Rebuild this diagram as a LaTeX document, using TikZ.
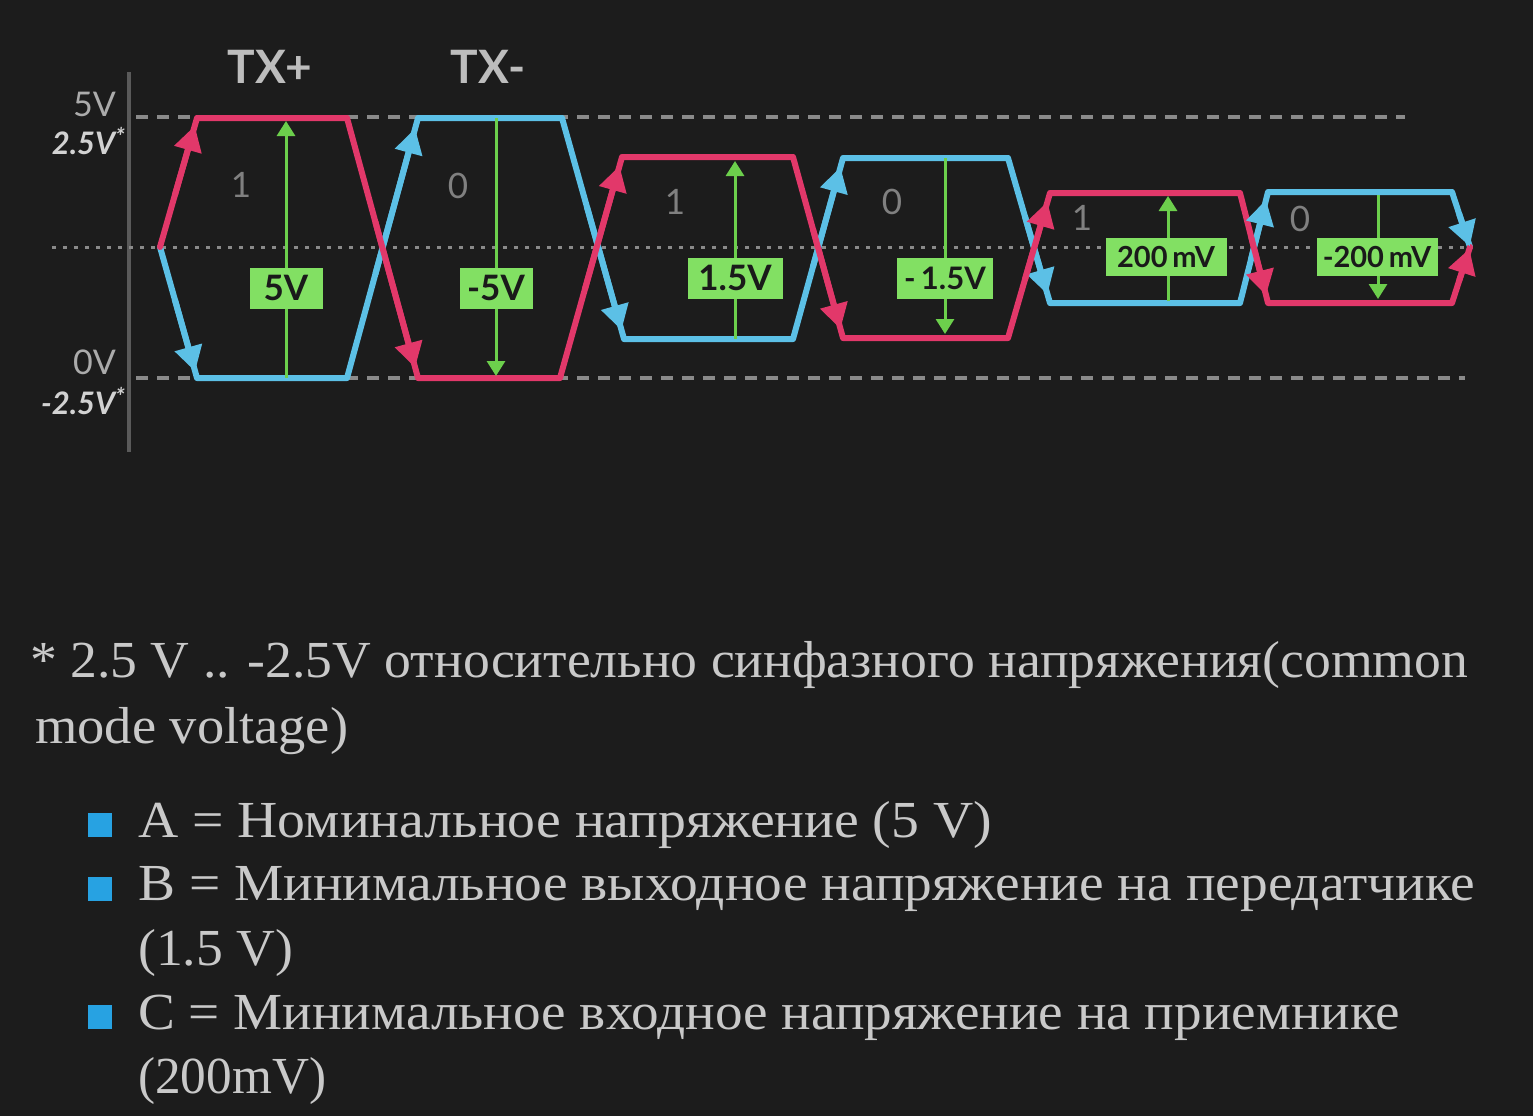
\documentclass[tikz,border=0pt]{standalone}
\usepackage{fontspec}
\setmainfont{Liberation Serif}
\newfontfamily\diag{Lato}
\usetikzlibrary{arrows.meta,calc}
\definecolor{bg}{HTML}{1C1C1C}
\definecolor{wred}{HTML}{E2386A}
\definecolor{wblue}{HTML}{5CC0E6}
\definecolor{mgreen}{HTML}{6CCF4C}
\definecolor{lgreen}{HTML}{82E063}
\definecolor{boxtxt}{HTML}{1A1A1A}
\definecolor{txt}{HTML}{C9C9C9}
\definecolor{dig}{HTML}{808080}
\definecolor{axisg}{HTML}{5A5A5A}
\definecolor{dashg}{HTML}{8A8A8A}
\definecolor{albl}{HTML}{ABABAB}
\definecolor{albi}{HTML}{D2D2D2}
\definecolor{txlbl}{HTML}{BDBDBD}
\definecolor{bul}{HTML}{27A2E2}
\newlength\natw
\newcommand\FitLine[2]{\settowidth\natw{#2}\pgfmathsetmacro\fsc{#1/\natw}\scalebox{\fsc}[1]{#2}}
\begin{document}
\begin{tikzpicture}[x=1pt,y=-1pt,
  wave/.style={line width=6pt,line join=round,line cap=round},
  wtip/.style={line width=6pt,-{Triangle[length=25pt,width=27pt]}},
  meas/.style={draw=mgreen,line width=3pt,-{Triangle[length=15pt,width=18pt]}},
  vbox/.style={fill=lgreen,text=boxtxt,font=\diag\bfseries\fontsize{35}{35}\selectfont,inner sep=0pt,minimum height=41pt},
  mvbox/.style={fill=lgreen,text=boxtxt,font=\diag\bfseries\fontsize{29}{29}\selectfont,inner sep=0pt,minimum height=38pt,minimum width=121pt},
  bit/.style={text=dig,font=\diag\fontsize{35}{35}\selectfont,inner sep=0pt},
  axl/.style={text=albl,font=\diag\fontsize{34}{34}\selectfont,inner sep=0pt,anchor=east},
  axi/.style={text=albi,font=\diag\bfseries\itshape\fontsize{31}{31}\selectfont,inner sep=0pt,anchor=east},
  txl/.style={text=txlbl,font=\diag\bfseries\fontsize{46}{46}\selectfont,inner sep=0pt},
  para/.style={text=txt,font=\fontsize{52}{60}\selectfont,inner sep=0pt,anchor=base west},
  bullet/.style={fill=bul,minimum size=24pt,inner sep=0pt}]
\fill[bg] (0,0) rectangle (1533,1116);
\useasboundingbox (0,0) rectangle (1533,1116);

% axis and reference lines
\draw[axisg,line width=4pt] (129,72) -- (129,452);
\draw[dashg,line width=4pt,dash pattern=on 12pt off 9pt] (136,117) -- (1405,117);
\draw[dashg,line width=4pt,dash pattern=on 12pt off 9pt] (136,378) -- (1465,378);
\draw[dashg,line width=3pt,dash pattern=on 4pt off 7pt] (52,247) -- (1470,247);

% axis labels
\node[axl] (l5v) at (116,104) {5V};
\node[axi] (l25) at (125,141) {2.5V\raisebox{0.3em}{\fontsize{24}{24}\selectfont*}};
\node[axl] (l0v) at (116,362) {0V};
\node[axi] (lm25) at (125,401) {-2.5V\raisebox{0.3em}{\fontsize{24}{24}\selectfont*}};
\node[txl] (txp) at (270,67) {TX+};
\node[txl] (txm) at (488,67) {TX-};

% waveform points
\coordinate (m0) at (160,247);
\coordinate (m7) at (1470,247);
\coordinate (r1) at (197,118);  \coordinate (r2) at (347,118);
\coordinate (r3) at (418,378);  \coordinate (r4) at (560,378);
\coordinate (r5) at (622,157);  \coordinate (r6) at (793,157);
\coordinate (r7) at (843,338);  \coordinate (r8) at (1008,338);
\coordinate (r9) at (1050,193); \coordinate (r10) at (1240,193);
\coordinate (r11) at (1268,303);\coordinate (r12) at (1452,303);
\coordinate (b1) at (197,378);  \coordinate (b2) at (347,378);
\coordinate (b3) at (418,118);  \coordinate (b4) at (562,118);
\coordinate (b5) at (624,339);  \coordinate (b6) at (793,339);
\coordinate (b7) at (843,158);  \coordinate (b8) at (1008,158);
\coordinate (b9) at (1050,303); \coordinate (b10) at (1240,303);
\coordinate (b11) at (1268,192);\coordinate (b12) at (1452,192);

\draw[wave,wblue] (m0) -- (b1) -- (b2) -- (b3) -- (b4) -- (b5) -- (b6) -- (b7) -- (b8) -- (b9) -- (b10) -- (b11) -- (b12) -- (m7);
\draw[wave,wred] (m0) -- (r1) -- (r2) -- (r3) -- (r4) -- (r5) -- (r6) -- (r7) -- (r8) -- (r9) -- (r10) -- (r11) -- (r12) -- (m7);
\foreach \a/\b/\f in {m0/b1/0.95, b2/b3/0.96, b4/b5/0.96, b6/b7/0.95, b8/b9/0.94, b10/b11/0.93, b12/m7/0.99}
  \draw[wtip,wblue] ($(\a)!0.4!(\b)$) -- ($(\a)!\f!(\b)$);
\foreach \a/\b/\f in {m0/r1/0.94, r2/r3/0.96, r4/r5/0.96, r6/r7/0.95, r8/r9/0.94, r10/r11/0.93, r12/m7/0.97}
  \draw[wtip,wred] ($(\a)!0.4!(\b)$) -- ($(\a)!\f!(\b)$);

% bit digits
\node[bit] (d1) at (241,185) {1};
\node[bit] (d2) at (458,186) {0};
\node[bit] (d3) at (675,202) {1};
\node[bit] (d4) at (892,202) {0};
\node[bit] (d5) at (1082,218) {1};
\node[bit] (d6) at (1300,219) {0};

% measurement arrows
\coordinate (g1a) at (286,378); \coordinate (g1b) at (286,121);
\coordinate (g2a) at (496,118); \coordinate (g2b) at (496,376);
\coordinate (g3a) at (735,339); \coordinate (g3b) at (735,161);
\coordinate (g4a) at (945,158); \coordinate (g4b) at (945,334);
\coordinate (g5a) at (1168,301); \coordinate (g5b) at (1168,196);
\coordinate (g6a) at (1378,195); \coordinate (g6b) at (1378,299);
\foreach \i in {1,...,6} \draw[meas] (g\i a) -- (g\i b);
\node[vbox,minimum width=73pt] (v1) at (286,288) {5V};
\node[vbox,minimum width=73pt] (v2) at (496,288) {-5V};
\node[vbox,minimum width=95pt] (v3) at (735,278) {1.5V};
\node[vbox,minimum width=96pt,font=\diag\bfseries\fontsize{31}{31}\selectfont] (v4) at (945,278) {-\,1.5V};
\node[mvbox] (v5) at (1166,257) {200\,mV};
\node[mvbox] (v6) at (1377,257) {-200\,mV};

% text
\node[para] (p1) at (30,677) {\FitLine{1438}{* 2.5 V .. -2.5V относительно синфазного напряжения(common}};
\node[para] (p2) at (35,743) {\FitLine{313}{mode voltage)}};
\node[bullet] (s1) at (100,825) {};
\node[bullet] (s2) at (100,889) {};
\node[bullet] (s3) at (100,1017) {};
\node[para] (a1) at (138,837) {\FitLine{854}{A = Номинальное напряжение (5 V)}};
\node[para] (a2) at (138,900) {\FitLine{1337}{B = Минимальное выходное напряжение на передатчике}};
\node[para] (a3) at (138,965) {\FitLine{155}{(1.5 V)}};
\node[para] (a4) at (138,1029) {\FitLine{1262}{C = Минимальное входное напряжение на приемнике}};
\node[para] (a5) at (138,1093) {\FitLine{188}{(200mV)}};
\end{tikzpicture}
\end{document}
